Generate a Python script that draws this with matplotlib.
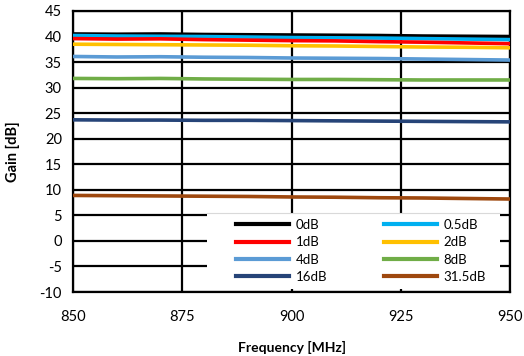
import matplotlib.pyplot as plt
from matplotlib.patches import Rectangle

plt.rcParams['font.family'] = ['Lato', 'DejaVu Sans']
plt.rcParams['axes.unicode_minus'] = False

freq = [850, 860, 870, 880, 890, 900, 910, 920, 930, 940, 950]
labels = ["0dB", "0.5dB", "1dB", "2dB", "4dB", "8dB", "16dB", "31.5dB"]
colors = ["#000000", "#00b0f0", "#ff0000", "#ffc000", "#5b9bd5", "#70ad47", "#264478", "#9e480e"]

gain_0 = [40.5, 40.45, 40.5, 40.4, 40.35, 40.3, 40.25, 40.2, 40.1, 40.05, 40.0]
gain_05 = [40.2, 40.1, 40.05, 40.0, 39.9, 39.8, 39.75, 39.7, 39.6, 39.5, 39.4]
gain_1 = [39.6, 39.5, 39.55, 39.4, 39.3, 39.2, 39.15, 39.0, 38.9, 38.75, 38.6]
gain_2 = [38.5, 38.45, 38.4, 38.35, 38.3, 38.2, 38.15, 38.05, 37.95, 37.9, 37.8]
gain_4 = [36.1, 36.0, 36.05, 35.95, 35.9, 35.8, 35.75, 35.7, 35.6, 35.5, 35.4]
gain_8 = [31.8, 31.75, 31.8, 31.7, 31.65, 31.6, 31.6, 31.55, 31.5, 31.5, 31.5]
gain_16 = [23.7, 23.65, 23.65, 23.6, 23.6, 23.55, 23.5, 23.45, 23.4, 23.35, 23.3]
gain_315 = [8.9, 8.85, 8.8, 8.75, 8.7, 8.6, 8.55, 8.45, 8.4, 8.3, 8.2]
series = [gain_0, gain_05, gain_1, gain_2, gain_4, gain_8, gain_16, gain_315]

fig = plt.figure(figsize=(5.24, 3.56), dpi=100)
ax = fig.add_axes([73 / 524, 1 - 292 / 356, 437 / 524, 281 / 356])

handles = []
for vals, lab, col in zip(series, labels, colors):
    h, = ax.plot(freq, vals, color=col, lw=2.6, label=lab, zorder=3)
    handles.append(h)

ax.set_xlim(850, 950)
ax.set_ylim(-10, 45)
ax.set_xticks([850, 875, 900, 925, 950])
ax.set_yticks(range(-10, 50, 5))
ax.grid(True, color="black", lw=1.6, zorder=1)
ax.set_axisbelow(True)
for s in ax.spines.values():
    s.set_color("black")
    s.set_linewidth(1.6)
ax.tick_params(length=0, labelsize=10.5)
ax.tick_params(axis="x", pad=13)
ax.tick_params(axis="y", pad=8)

ax.set_xlabel("Frequency [MHz]", fontsize=10, fontweight="bold", labelpad=12)
ax.set_ylabel("Gain [dB]", fontsize=10.5, fontweight="bold", labelpad=14)

# white box behind legend
x0 = (207 - 73) / 437
y0 = (292 - 289) / 281
w = (500 - 207) / 437
hgt = (289 - 213) / 281
ax.add_patch(Rectangle((x0, y0), w, hgt, transform=ax.transAxes,
                       facecolor="white", edgecolor="none", zorder=4))
ax.plot([x0, x0 + w], [y0 + hgt, y0 + hgt], transform=ax.transAxes,
        color="#d9d9d9", lw=0.8, zorder=4.5)

order = [0, 2, 4, 6, 1, 3, 5, 7]
leg = ax.legend([handles[i] for i in order], [labels[i] for i in order],
                ncol=2, frameon=False, loc="center",
                bbox_to_anchor=((361 - 73) / 437, y0 + hgt / 2), fontsize=9.5,
                handlelength=4.0, handletextpad=0.5, columnspacing=4.3,
                labelspacing=0.4)
leg.set_zorder(5)
for line in leg.get_lines():
    line.set_linewidth(3)

fig.savefig("out.png", dpi=100)
